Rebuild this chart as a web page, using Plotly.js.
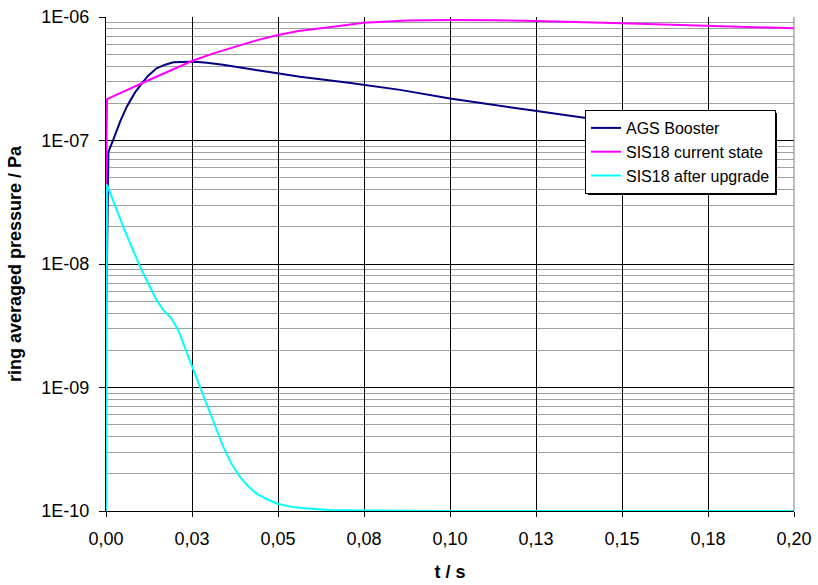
<!DOCTYPE html>
<html>
<head>
<meta charset="utf-8">
<script src="https://cdn.plot.ly/plotly-3.0.1.min.js"></script>
<style>html,body{margin:0;padding:0;background:#fff;}#chart{width:818px;height:585px;}</style>
</head>
<body>
<div id="chart"></div>
<script>
// AGS Booster
var agsT = [0, 0.0007, 0.0021, 0.0041, 0.0060, 0.0084, 0.0108, 0.0122, 0.0147, 0.0172, 0.0196, 0.022, 0.0244, 0.0268, 0.0293, 0.034, 0.039, 0.047, 0.0564, 0.07, 0.0855, 0.1, 0.1252, 0.142, 0.16];
var agsP = [2.7e-9, 8.1e-8, 1.01e-7, 1.42e-7, 1.87e-7, 2.44e-7, 2.99e-7, 3.33e-7, 3.84e-7, 4.11e-7, 4.30e-7, 4.34e-7, 4.35e-7, 4.33e-7, 4.27e-7, 4.10e-7, 3.88e-7, 3.60e-7, 3.28e-7, 2.95e-7, 2.57e-7, 2.19e-7, 1.73e-7, 1.48e-7, 1.26e-7];
// SIS18 current state
var curT = [0, 0.0003, 0.0125, 0.025, 0.031, 0.0375, 0.044, 0.05, 0.056, 0.0625, 0.069, 0.075, 0.0875, 0.1, 0.1125, 0.125, 0.15, 0.175, 0.2];
var curP = [4.4e-8, 2.16e-7, 3.09e-7, 4.4e-7, 5.05e-7, 5.75e-7, 6.5e-7, 7.15e-7, 7.7e-7, 8.1e-7, 8.6e-7, 9.0e-7, 9.35e-7, 9.45e-7, 9.4e-7, 9.3e-7, 8.9e-7, 8.5e-7, 8.1e-7];
// SIS18 after upgrade
var updT = [0, 0.0003, 0.005, 0.0099, 0.0147, 0.0167, 0.019, 0.021, 0.0249, 0.0271, 0.0293, 0.0317, 0.0341, 0.0365, 0.039, 0.0414, 0.0438, 0.0467, 0.0496, 0.054, 0.0583, 0.065, 0.075, 0.1, 0.2];
var updP = [1.0e-10, 4.4e-8, 2.0e-8, 9.5e-9, 5.1e-9, 4.23e-9, 3.63e-9, 2.91e-9, 1.51e-9, 1.05e-9, 7.4e-10, 4.9e-10, 3.3e-10, 2.4e-10, 1.88e-10, 1.58e-10, 1.38e-10, 1.25e-10, 1.15e-10, 1.08e-10, 1.05e-10, 1.02e-10, 1.01e-10, 1.0e-10, 1.0e-10];

var seriesNames = ['AGS Booster', 'SIS18 current state', 'SIS18 after upgrade'];
var xTickVals = [0, 0.025, 0.05, 0.075, 0.1, 0.125, 0.15, 0.175, 0.2];
var xTickText = ['0,00', '0,03', '0,05', '0,08', '0,10', '0,13', '0,15', '0,18', '0,20'];
var yTickVals = [1e-10, 1e-9, 1e-8, 1e-7, 1e-6];
var yTickText = ['1E-10', '1E-09', '1E-08', '1E-07', '1E-06'];

var minorVals = [];
for (var e = -10; e < -6; e++) {
  for (var m = 2; m <= 9; m++) minorVals.push(m * Math.pow(10, e));
}

var FONT = 'Arial, "Liberation Sans", sans-serif';

var traces = [
  {x: agsT, y: agsP, name: seriesNames[0], mode: 'lines', line: {color: '#000080', width: 2}},
  {x: curT, y: curP, name: seriesNames[1], mode: 'lines', line: {color: '#FF00FF', width: 2}},
  {x: updT, y: updP, name: seriesNames[2], mode: 'lines', line: {color: '#00FFFF', width: 2}}
];

function px2x(p) { return (p - 106) / 688; }
function px2y(p) { return (511 - p) / 494; }

var layout = {
  width: 818, height: 585,
  margin: {l: 106, r: 24, t: 17, b: 74, pad: 0},
  paper_bgcolor: '#fff', plot_bgcolor: '#fff',
  font: {family: FONT, size: 18, color: '#000'},
  showlegend: true,
  legend: {
    x: px2x(585), y: px2y(110), xanchor: 'left', yanchor: 'top',
    bgcolor: '#fff', bordercolor: '#000', borderwidth: 1,
    font: {family: FONT, size: 16, color: '#000'}
  },
  xaxis: {
    range: [0, 0.2], tickmode: 'array', tickvals: xTickVals, ticktext: xTickText,
    showgrid: true, gridcolor: '#000', gridwidth: 1, zeroline: false,
    showline: true, linecolor: '#000', linewidth: 1,
    ticks: 'outside', ticklen: 5, tickcolor: '#000', ticklabelstandoff: 6,
    tickfont: {family: FONT, size: 18, color: '#000'},
    title: {text: '<b>t / s</b>', font: {family: FONT, size: 18, color: '#000'}, standoff: 17}
  },
  yaxis: {
    type: 'log', range: [-10, -6], tickmode: 'array', tickvals: yTickVals, ticktext: yTickText,
    showgrid: true, gridcolor: '#000', gridwidth: 1, zeroline: false,
    showline: true, linecolor: '#000', linewidth: 1,
    ticks: 'outside', ticklen: 6, tickcolor: '#000', ticklabelstandoff: 6,
    tickfont: {family: FONT, size: 18, color: '#000'},
    minor: {tickmode: 'array', tickvals: minorVals, showgrid: true, gridcolor: '#a0a0a0', gridwidth: 1, ticks: ''},
    title: {text: '<b>ring averaged pressure / Pa</b>', font: {family: FONT, size: 18, color: '#000'}, standoff: 15}
  },
  shapes: [
    {type: 'line', xref: 'paper', yref: 'paper', x0: 1, x1: 1, y0: 0, y1: 1, line: {color: '#808080', width: 1}},
    {type: 'rect', xref: 'paper', yref: 'paper', layer: 'above',
     x0: px2x(588), x1: px2x(777), y0: px2y(195), y1: px2y(113),
     fillcolor: '#000', line: {width: 0}}
  ]
};

Plotly.newPlot('chart', traces, layout, {displayModeBar: false, staticPlot: true});
</script>
</body>
</html>
